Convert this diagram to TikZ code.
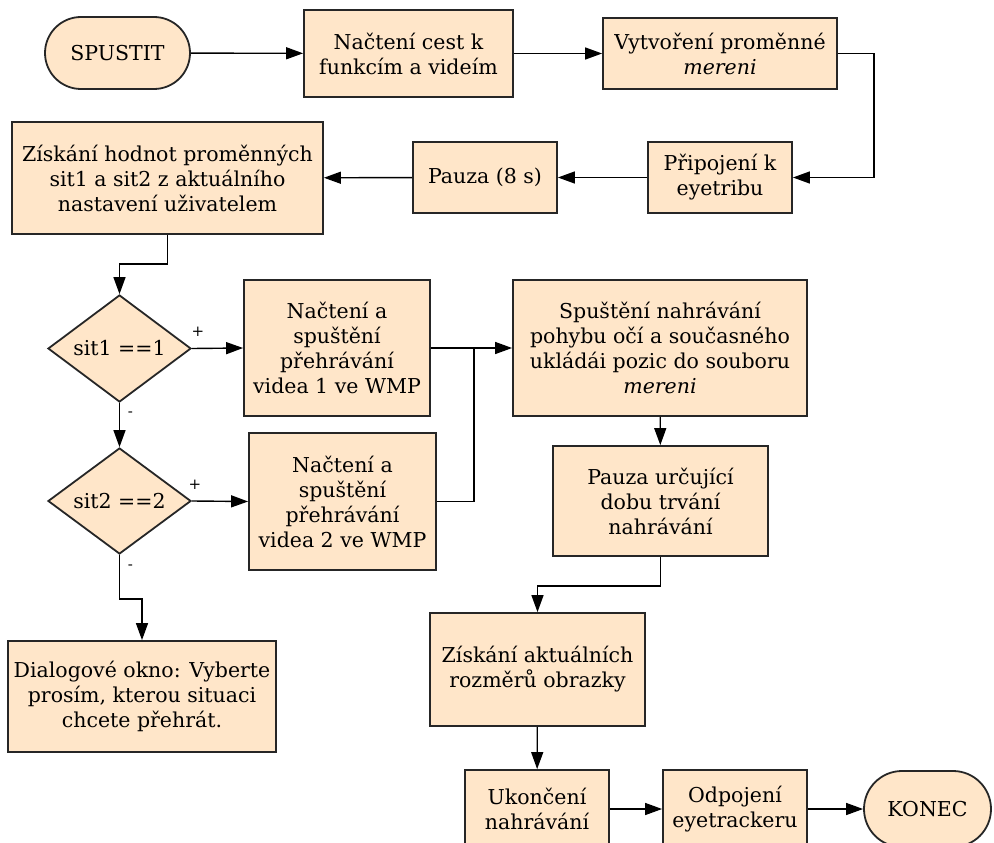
\documentclass[tikz,border=0pt]{standalone}
\usepackage{fontspec}
\setmainfont{DejaVu Serif}
\usetikzlibrary{shapes.geometric,shapes.misc,arrows.meta}
\definecolor{boxfill}{RGB}{255,230,201}

\begin{document}
\begin{tikzpicture}[x=1pt, y=-1pt,
  box/.style={draw=black!85, line width=1.8pt, fill=boxfill, align=center, inner sep=2pt, font=\fontsize{20.5}{25}\selectfont},
  term/.style={box, rounded rectangle},
  cond/.style={box, diamond, aspect=1.34, inner sep=0pt},
  link/.style={line width=1.4pt, -{Triangle[length=17pt, width=12pt]}},
  sign/.style={font=\fontsize{15}{17}\selectfont, inner sep=0pt}]
  \useasboundingbox (0,0) rectangle (994,843);

  % Start and preparation (top rows)
  \node[term, minimum width=149pt, minimum height=72pt] (start) at (117.5,53) {SPUSTIT};
  \node[box, minimum width=209pt, minimum height=87pt] (paths) at (408.5,53.5) {Načtení cest k\\funkcím a videím};
  \node[box, minimum width=234pt, minimum height=71pt] (var) at (720,53.5) {Vytvoření proměnné\\\textit{mereni}};
  \node[box, minimum width=144pt, minimum height=71pt] (connect) at (720,177.5) {Připojení k\\eyetribu};
  \node[box, minimum width=144pt, minimum height=71pt] (wait) at (485,177.5) {Pauza (8 s)};
  \node[box, minimum width=311pt, minimum height=112pt] (read) at (167.5,178) {Získání hodnot proměnných\\sit1 a sit2 z aktuálního\\nastavení uživatelem};

  % Decisions
  \node[cond, minimum width=143pt, minimum height=107pt] (sit1) at (119.5,348.5) {sit1 ==1};
  \node[cond, minimum width=143pt, minimum height=106pt] (sit2) at (119.5,501) {sit2 ==2};
  \node[box, minimum width=186pt, minimum height=136pt] (video1) at (337,348) {Načtení a\\spuštění\\přehrávání\\videa 1 ve WMP};
  \node[box, minimum width=187pt, minimum height=137pt] (video2) at (342.5,501.5) {Načtení a\\spuštění\\přehrávání\\videa 2 ve WMP};
  \node[box, minimum width=268pt, minimum height=111pt] (dialog) at (142,696.5) {Dialogové okno: Vyberte\\prosím, kterou situaci\\chcete přehrát.};

  % Recording
  \node[box, minimum width=294pt, minimum height=136pt] (record) at (660,348) {Spuštění nahrávání\\pohybu očí a současného\\ukládái pozic do souboru\\\textit{mereni}};
  \node[box, minimum width=215pt, minimum height=110pt] (duration) at (660.5,501) {Pauza určující\\dobu trvání\\nahrávání};
  \node[box, minimum width=215pt, minimum height=113pt] (size) at (537.5,669.5) {Získání aktuálních\\rozměrů obrazky};
  \node[box, minimum width=144pt, minimum height=78pt] (stoprec) at (537,809) {Ukončení\\nahrávání};
  \node[box, minimum width=144pt, minimum height=78pt] (detach) at (735,809) {Odpojení\\eyetrackeru};
  \node[term, minimum width=131pt, minimum height=76pt] (end) at (927.5,809) {KONEC};
  \coordinate (join) at (474,348);

  % Connectors
  \draw[link] (start) -- (paths);
  \draw[link] (paths) -- (var);
  \draw[link] (var.east) -- ++(36,0) |- (connect.east);
  \draw[link] (connect) -- (wait);
  \draw[link] (wait) -- (read);
  \draw[link] (read.south) -- ++(0,29) -| (sit1.north);
  \draw[link] (sit1.east) -- node[sign, pos=0, xshift=6pt, yshift=17pt] {+} (video1.west);
  \draw[link] (sit1.south) -- node[sign, pos=0, xshift=11pt, yshift=-11pt] {-} (sit2.north);
  \draw[link] (sit2.east) -- node[sign, pos=0, xshift=3pt, yshift=16pt] {+} (video2.west);
  \draw[link] (sit2.south) -- node[sign, pos=0, xshift=11pt, yshift=-12pt] {-} ++(0,44) -| (dialog.north);
  \draw[line width=1.4pt] (video2.east) -| (join);
  \draw[link] (video1.east) -- (record.west);
  \draw[link] (record) -- (duration);
  \draw[link] (duration.south) -- ++(0,29) -| (size.north);
  \draw[link] (size) -- (stoprec);
  \draw[link] (stoprec) -- (detach);
  \draw[link] (detach) -- (end);
\end{tikzpicture}
\end{document}
